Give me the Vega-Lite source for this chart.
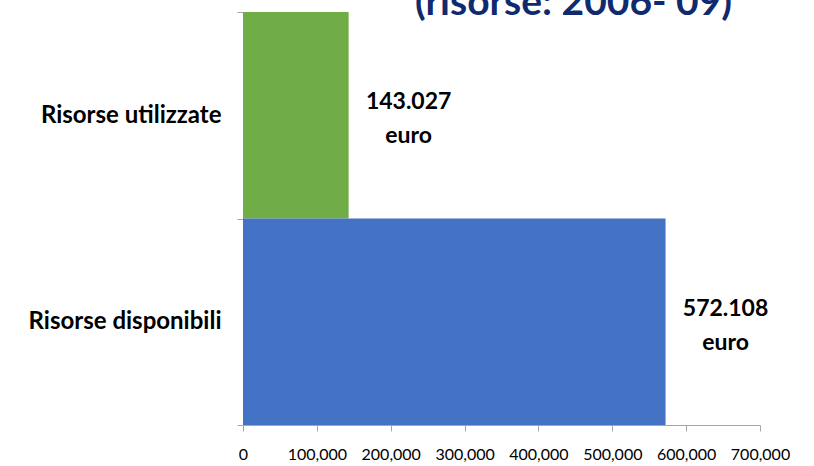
{
  "$schema": "https://vega.github.io/schema/vega-lite/v6.json",
  "width": 517,
  "height": 413,
  "autosize": "none",
  "padding": {"left": 243, "top": 12, "right": 54, "bottom": 41},
  "background": "white",
  "title": {"text": "(risorse: 2006- 09)", "font": "Lato", "fontSize": 39, "fontWeight": "bold", "color": "#0F2A6E", "anchor": "middle", "frame": "group", "dx": 72, "offset": -23},
  "config": {"view": {"stroke": null}},
  "data": {"values": [
    {"cat": "Risorse utilizzate", "value": 143027, "label": "143.027\neuro"},
    {"cat": "Risorse disponibili", "value": 572108, "label": "572.108\neuro"}
  ]},
  "encoding": {
    "y": {"field": "cat", "type": "nominal", "sort": null, "scale": {"paddingInner": 0, "paddingOuter": 0},
      "axis": {"title": null, "tickBand": "extent", "labelFont": "Lato", "labelFontSize": 24, "labelFontWeight": "bold", "labelColor": "black", "labelPadding": 16, "tickSize": 6, "domainColor": "#A6A6A6", "tickColor": "#A6A6A6", "labelLimit": 300}},
    "x": {"field": "value", "type": "quantitative", "scale": {"domain": [0, 700000], "nice": false},
      "axis": {"title": null, "values": [0, 100000, 200000, 300000, 400000, 500000, 600000, 700000], "format": ",.0f", "labelFont": "Lato", "labelFontSize": 16, "labelColor": "black", "grid": false, "tickSize": 6, "labelPadding": 15, "domainColor": "#A6A6A6", "tickColor": "#A6A6A6", "labelFlush": false, "labelOverlap": false}}
  },
  "layer": [
    {"mark": {"type": "bar", "orient": "horizontal"},
     "encoding": {"color": {"field": "cat", "type": "nominal", "scale": {"domain": ["Risorse utilizzate", "Risorse disponibili"], "range": ["#70AD47", "#4472C4"]}, "legend": null}}},
    {"mark": {"type": "text", "align": "center", "dx": 60, "dy": -13, "lineBreak": "\n", "font": "Lato", "fontSize": 23, "fontWeight": "bold", "baseline": "middle", "lineHeight": 34, "color": "black"},
     "encoding": {"text": {"field": "label"}}}
  ]
}
